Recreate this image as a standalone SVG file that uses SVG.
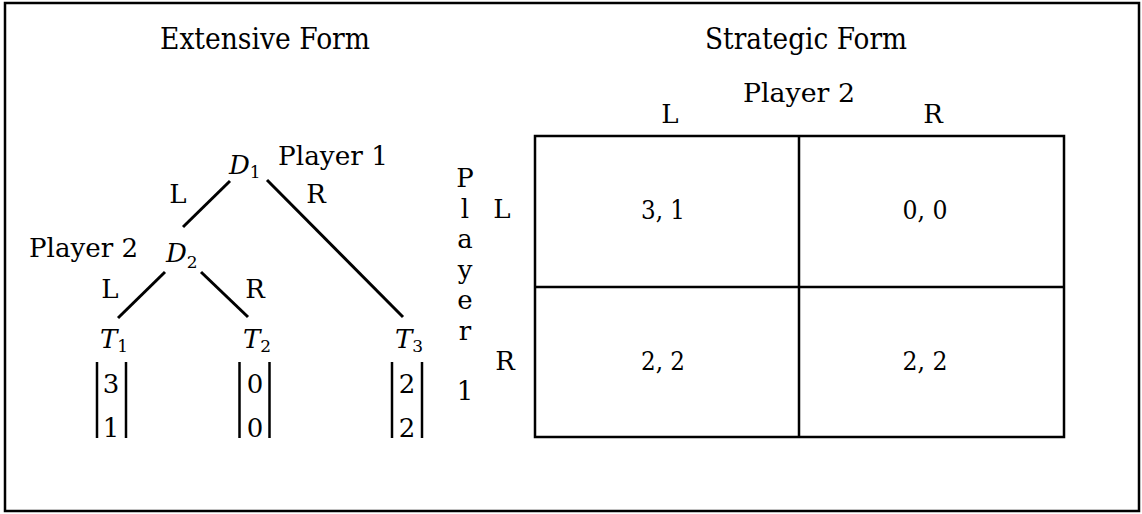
<svg xmlns="http://www.w3.org/2000/svg" width="1142" height="514" viewBox="0 0 1142 514">
<style>
text{font-family:"DejaVu Serif",serif;fill:#000;font-size:26px}
.t{font-size:30px}
.c{text-anchor:middle}
.i{font-style:italic}
.s{font-size:17px;font-style:normal}
.ln{stroke:#000;stroke-width:3;fill:none}
.bar{stroke:#000;stroke-width:2.5;fill:none}
.tb{stroke:#000;stroke-width:2.5;fill:none}
</style>
<rect x="5" y="3" width="1134" height="508" fill="#fff" stroke="#000" stroke-width="2.5"/>
<g id="titles">
<text class="t c" x="265" y="49" textLength="210" lengthAdjust="spacingAndGlyphs">Extensive Form</text>
<text class="t c" x="806" y="49" textLength="202" lengthAdjust="spacingAndGlyphs">Strategic Form</text>
</g>
<g id="connectors">
<line class="ln" x1="230" y1="181" x2="183" y2="227"/>
<line class="ln" x1="267" y1="180" x2="403" y2="317"/>
<line class="ln" x1="165" y1="272" x2="118" y2="318"/>
<line class="ln" x1="201" y1="272" x2="248" y2="317"/>
</g>
<g id="D1">
<text x="229" y="174" class="i">D<tspan class="s" dy="4">1</tspan></text>
<text x="278" y="165" textLength="110" lengthAdjust="spacingAndGlyphs">Player 1</text>
</g>
<g id="edgelabels">
<text class="c" x="178" y="203">L</text>
<text class="c" x="316" y="203">R</text>
<text class="c" x="110" y="298">L</text>
<text class="c" x="255" y="298">R</text>
</g>
<g id="D2">
<text x="29" y="257" textLength="109" lengthAdjust="spacingAndGlyphs">Player 2</text>
<text x="166" y="262" class="i">D<tspan class="s" dy="6">2</tspan></text>
</g>
<g id="T1">
<text x="100" y="348" class="i">T<tspan class="s" dy="4">1</tspan></text>
<line class="bar" x1="97" y1="362" x2="97" y2="438"/>
<line class="bar" x1="126" y1="362" x2="126" y2="438"/>
<text class="c" x="111" y="393">3</text>
<text class="c" x="111" y="437">1</text>
</g>
<g id="T2">
<text x="243" y="348" class="i">T<tspan class="s" dy="4">2</tspan></text>
<line class="bar" x1="239.5" y1="362" x2="239.5" y2="438"/>
<line class="bar" x1="269.5" y1="362" x2="269.5" y2="438"/>
<text class="c" x="255" y="393">0</text>
<text class="c" x="255" y="437">0</text>
</g>
<g id="T3">
<text x="395" y="348" class="i">T<tspan class="s" dy="4">3</tspan></text>
<line class="bar" x1="392" y1="362" x2="392" y2="438"/>
<line class="bar" x1="422" y1="362" x2="422" y2="438"/>
<text class="c" x="407" y="393">2</text>
<text class="c" x="407" y="437">2</text>
</g>
<g id="strategic-table">
<rect class="tb" x="535" y="136" width="529" height="301"/>
<line class="tb" x1="799" y1="136" x2="799" y2="437"/>
<line class="tb" x1="535" y1="287" x2="1064" y2="287"/>
<text class="c" x="799" y="102" textLength="112" lengthAdjust="spacingAndGlyphs">Player 2</text>
<text class="c" x="670" y="123">L</text>
<text class="c" x="933" y="123">R</text>
<g class="c">
<text x="465" y="187">P</text>
<text x="465" y="218">l</text>
<text x="465" y="248">a</text>
<text x="465" y="279">y</text>
<text x="465" y="309">e</text>
<text x="465" y="340">r</text>
<text x="465" y="400">1</text>
</g>
<text class="c" x="502" y="218">L</text>
<text class="c" x="505" y="370">R</text>
<text class="c" x="663" y="219" textLength="44" lengthAdjust="spacingAndGlyphs">3, 1</text>
<text class="c" x="925" y="219" textLength="45" lengthAdjust="spacingAndGlyphs">0, 0</text>
<text class="c" x="663" y="370" textLength="44" lengthAdjust="spacingAndGlyphs">2, 2</text>
<text class="c" x="925" y="370" textLength="45" lengthAdjust="spacingAndGlyphs">2, 2</text>
</g>
</svg>
